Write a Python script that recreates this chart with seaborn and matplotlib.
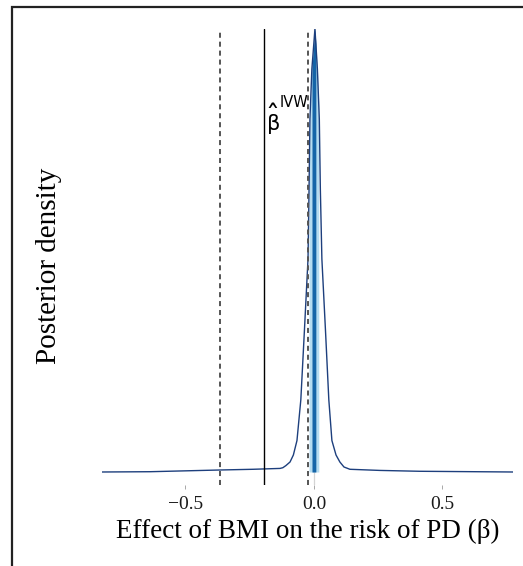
import numpy as np
import pandas as pd
import seaborn as sns
import matplotlib
matplotlib.use("Agg")
import matplotlib.pyplot as plt
from matplotlib.patches import Rectangle

# ---- data ----
beta = [-0.825, -0.638, -0.366, -0.237, -0.132, -0.121, -0.109, -0.093, -0.080,
        -0.066, -0.051, -0.037, -0.023, -0.019, -0.0155, -0.008, 0.004,
        0.0135, 0.021, 0.025, 0.031, 0.045, 0.058, 0.070, 0.086, 0.101,
        0.117, 0.140, 0.257, 0.412, 0.775]
density = [0.0, 0.02, 0.14, 0.19, 0.25, 0.30, 0.45, 0.70, 1.19,
           2.2, 5.05, 9.9, 14.9, 19.8, 24.7, 28.2, 31.0,
           28.2, 24.7, 19.8, 14.9, 9.9, 5.05, 2.2, 1.19, 0.70,
           0.35, 0.19, 0.11, 0.05, 0.0]
ivw_estimate = -0.195
ivw_ci = [-0.366, -0.023]
outer_interval = [-0.019, 0.019]
inner_interval = [-0.0075, 0.0075]
xticks = [-0.5, 0.0, 0.5]
xtick_labels = ["\u22120.5", "0.0", "0.5"]

df = pd.DataFrame({"beta": beta, "density": density})

sns.set_theme(style="white")
plt.rcParams["font.family"] = ["Liberation Serif", "DejaVu Serif"]
plt.rcParams["mathtext.fontset"] = "dejavusans"

fig = plt.figure(figsize=(5.23, 5.66), dpi=100)
ax = fig.add_axes([102 / 523, 1 - 485 / 566, (513 - 102) / 523, (485 - 29) / 566])

xs = np.array(beta)
ys = np.array(density)

def band(lo, hi):
    m = (xs > lo) & (xs < hi)
    bx = np.concatenate([[lo], xs[m], [hi]])
    by = np.concatenate([[np.interp(lo, xs, ys)], ys[m], [np.interp(hi, xs, ys)]])
    return bx, by

bx, by = band(*outer_interval)
ax.fill_between(bx, 0, by, color="#b5dcf0", lw=0, zorder=2)
bx, by = band(*inner_interval)
ax.fill_between(bx, 0, by, color="#1565a8", lw=0, zorder=3)

ax.axvline(0, color="#d4d4d4", lw=0.9, zorder=1)
sns.lineplot(data=df, x="beta", y="density", ax=ax, color="#1d3f7d", lw=1.0,
             zorder=4, sort=False)

ax.axvline(ivw_estimate, color="black", lw=1.0, zorder=5)
for v in ivw_ci:
    ax.axvline(v, color="#555555", lw=1.4, ls=(0, (2.6, 2.0)), zorder=5)

# annotation: beta-hat with raised IVW superscript
ax.text(-0.187, 23.48, "$\\mathrm{\u03b2}$",
        fontsize=15, ha="left", va="bottom", color="black", zorder=6)
ax.text(-0.164, 23.95, "$\\mathrm{\u02c6}$",
        fontsize=20, ha="center", va="bottom", color="black", zorder=6)
ax.text(-0.133, 26.35, "IVW", family="DejaVu Sans",
        fontsize=10.5, ha="left", va="top", color="black", zorder=6)

ax.set_xlim(beta[0], beta[-1])
ax.set_ylim(-0.91, 31.0)
ax.set_xticks(xticks)
ax.set_xticklabels(xtick_labels)
ax.set_yticks([])
ax.tick_params(axis="x", length=3, width=0.6, color="#9a9a9a", pad=5,
               labelsize=14, labelcolor="#1a1a1a", bottom=True)
for s in ax.spines.values():
    s.set_visible(False)
ax.set_xlabel("Effect of BMI on the risk of PD (\u03b2)", fontsize=19.5, labelpad=4,
              color="black")
ax.set_ylabel("Posterior density", fontsize=21, color="black")
ax.yaxis.set_label_coords(-0.097, 0.48)

fig.patches.append(Rectangle((12 / 523, -0.1), 1.2, 1.1 - 7 / 566,
                             transform=fig.transFigure, fill=False,
                             edgecolor="#222222", lw=1.6))

fig.savefig("out.png", dpi=100)
